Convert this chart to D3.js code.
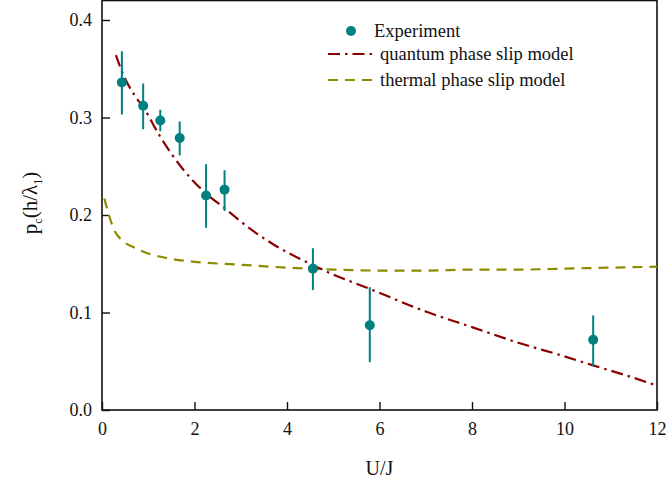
<!DOCTYPE html>
<head>
  <meta charset="utf-8" />
  <script src="https://d3js.org/d3.v7.min.js"></script>
  <style>
    body { margin: 0; background: #fff; }
    text { font-family: "Liberation Serif", "Times New Roman", serif; fill: #111; }
  </style>
</head>
<body>
  <script>
    // experiment points : U/J, p_c, error bar ends
    var expX    = [0.43, 0.89, 1.26, 1.68, 2.25, 2.65, 4.56, 5.79, 10.62];
    var expY    = [0.336, 0.312, 0.297, 0.279, 0.220, 0.226, 0.145, 0.087, 0.072];
    var expLow  = [0.303, 0.288, 0.286, 0.261, 0.187, 0.204, 0.123, 0.049, 0.045];
    var expHigh = [0.368, 0.335, 0.308, 0.296, 0.252, 0.246, 0.166, 0.126, 0.097];

    // quantum phase slip model
    var qpsX = [0.30, 0.45, 0.70, 0.90, 1.25, 1.70, 2.25, 2.65, 3.2, 3.7, 4.5, 5.0, 5.8, 7.0, 8.0, 9.0, 10.0, 10.6, 11.3, 12.0];
    var qpsY = [0.364, 0.345, 0.323, 0.310, 0.281, 0.250, 0.222, 0.207, 0.186, 0.170, 0.150, 0.139, 0.124, 0.101, 0.085, 0.069, 0.055, 0.046, 0.036, 0.025];

    // thermal phase slip model
    var tpsX = [0.05, 0.15, 0.25, 0.43, 0.64, 0.86, 1.5, 2.0, 3.0, 4.0, 5.0, 6.0, 7.0, 8.0, 9.0, 10.0, 11.0, 12.0];
    var tpsY = [0.217, 0.200, 0.186, 0.174, 0.168, 0.163, 0.155, 0.152, 0.149, 0.146, 0.144, 0.143, 0.143, 0.144, 0.144, 0.145, 0.146, 0.147];

    var xTicks = [0, 2, 4, 6, 8, 10, 12];
    var yTicks = [0.0, 0.1, 0.2, 0.3, 0.4];

    var width = 667, height = 482;
    var pLeft = 102, pRight = 657, pTop = 0.5, pBottom = 410;

    var svg = d3.select("body").append("svg")
      .attr("width", width)
      .attr("height", height);

    var x = d3.scaleLinear().domain([0, 12]).range([pLeft, pRight]);
    var y = d3.scaleLinear().domain([0, 0.42]).range([pBottom, pTop]);

    // frame
    svg.append("rect")
      .attr("x", pLeft).attr("y", pTop)
      .attr("width", pRight - pLeft).attr("height", pBottom - pTop)
      .attr("fill", "none").attr("stroke", "#111").attr("stroke-width", 1.6);

    // axes with inward ticks
    var xAxis = svg.append("g").attr("transform", "translate(0," + pBottom + ")");
    xAxis.call(d3.axisBottom(x).tickValues(d3.range(0, 12.01, 1)).tickSize(-4).tickFormat(""));
    xAxis.call(d3.axisBottom(x).tickValues(xTicks).tickSize(-8).tickPadding(12).tickFormat(d3.format("d")));
    var yAxis = svg.append("g").attr("transform", "translate(" + pLeft + ",0)");
    yAxis.call(d3.axisLeft(y).tickValues(d3.range(0, 0.401, 0.05)).tickSize(-4).tickFormat(""));
    yAxis.call(d3.axisLeft(y).tickValues(yTicks).tickSize(-8).tickPadding(10).tickFormat(d3.format(".1f")));
    svg.selectAll(".domain").remove();
    svg.selectAll(".tick line").attr("stroke", "#111").attr("stroke-width", 1.4);
    svg.selectAll(".tick text").style("font-size", "18px")
      .style("font-family", "'Liberation Serif', serif").attr("fill", "#111");

    // axis titles
    svg.append("text")
      .attr("x", (pLeft + pRight) / 2).attr("y", 475)
      .attr("text-anchor", "middle").style("font-size", "20px")
      .text("U/J");

    var yl = svg.append("text")
      .attr("transform", "translate(37," + 203 + ") rotate(-90)")
      .attr("text-anchor", "middle").style("font-size", "21px");
    yl.append("tspan").text("p");
    yl.append("tspan").attr("dy", 5).style("font-size", "12px").text("c");
    yl.append("tspan").attr("dy", -5).text("(h/λ");
    yl.append("tspan").attr("dy", 5).style("font-size", "12px").text("1");
    yl.append("tspan").attr("dy", -5).text(")");

    svg.append("clipPath").attr("id", "clip")
      .append("rect").attr("x", pLeft).attr("y", pTop)
      .attr("width", pRight - pLeft).attr("height", pBottom - pTop);

    var line = d3.line()
      .x(function (d) { return x(d[0]); })
      .y(function (d) { return y(d[1]); })
      .curve(d3.curveMonotoneX);

    var plot = svg.append("g").attr("clip-path", "url(#clip)");

    plot.append("path")
      .datum(d3.zip(tpsX, tpsY))
      .attr("d", line)
      .attr("fill", "none").attr("stroke", "#8c8c00").attr("stroke-width", 2.2)
      .attr("stroke-dasharray", "10,7");

    plot.append("path")
      .datum(d3.zip(qpsX, qpsY))
      .attr("d", line)
      .attr("fill", "none").attr("stroke", "#8b0000").attr("stroke-width", 2.2)
      .attr("stroke-dasharray", "12,5,2.5,5");

    // error bars and points
    var pts = d3.range(expX.length);
    plot.selectAll(".err").data(pts).join("line")
      .attr("class", "err")
      .attr("x1", function (i) { return x(expX[i]); })
      .attr("x2", function (i) { return x(expX[i]); })
      .attr("y1", function (i) { return y(expLow[i]); })
      .attr("y2", function (i) { return y(expHigh[i]); })
      .attr("stroke", "#008080").attr("stroke-width", 2);

    plot.selectAll(".pt").data(pts).join("circle")
      .attr("class", "pt")
      .attr("cx", function (i) { return x(expX[i]); })
      .attr("cy", function (i) { return y(expY[i]); })
      .attr("r", 5)
      .attr("fill", "#008080");

    // legend
    var lg = svg.append("g");
    lg.append("circle").attr("cx", 351).attr("cy", 31).attr("r", 5).attr("fill", "#008080");
    lg.append("text").attr("x", 374).attr("y", 37).style("font-size", "18.5px").text("Experiment");
    lg.append("line").attr("x1", 328).attr("x2", 375).attr("y1", 54).attr("y2", 54)
      .attr("stroke", "#8b0000").attr("stroke-width", 2.2).attr("stroke-dasharray", "12,5,2.5,5");
    lg.append("text").attr("x", 380).attr("y", 60).style("font-size", "18.5px").text("quantum phase slip model");
    lg.append("line").attr("x1", 328).attr("x2", 375).attr("y1", 80).attr("y2", 80)
      .attr("stroke", "#8c8c00").attr("stroke-width", 2.2).attr("stroke-dasharray", "10,7");
    lg.append("text").attr("x", 380).attr("y", 86).style("font-size", "18.5px").text("thermal phase slip model");
  </script>
</body>
